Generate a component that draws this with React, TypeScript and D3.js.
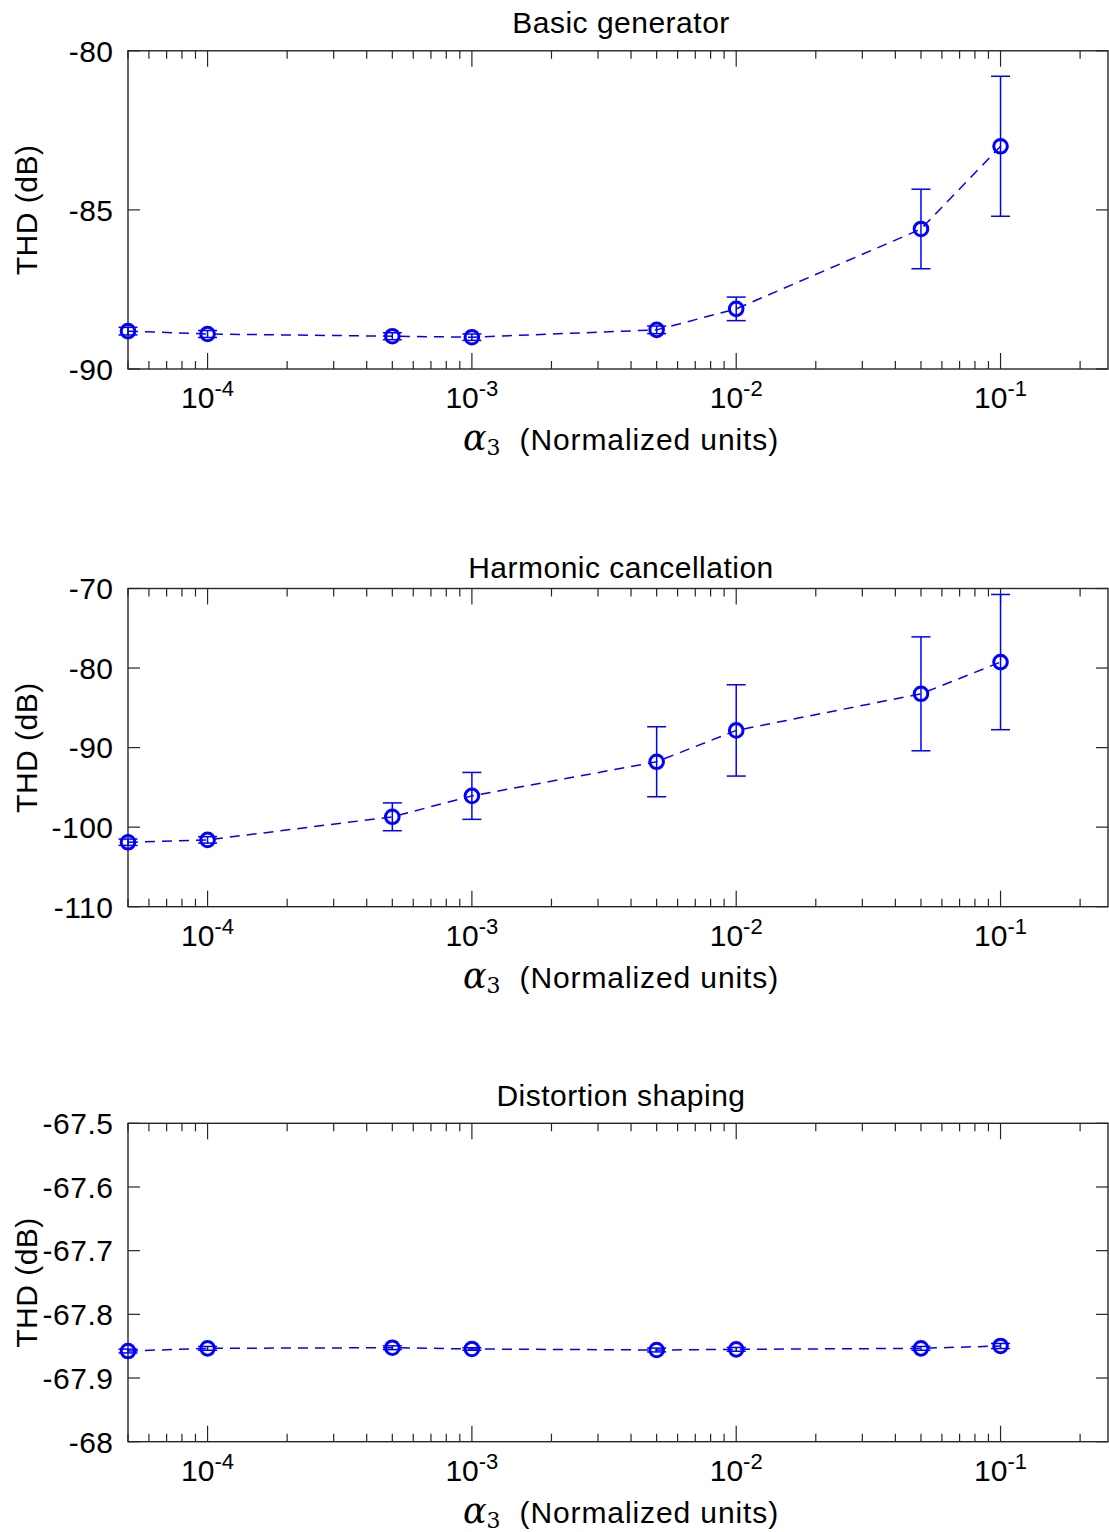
import React from "react";
import * as d3 from "d3";

const alphaValues = [5e-5, 1e-4, 5e-4, 1e-3, 5e-3, 1e-2, 5e-2, 1e-1];

const basicTHD = [-88.81, -88.9, -88.97, -89.0, -88.77, -88.11, -85.6, -83.0];
const basicErr = [0.12, 0.11, 0.11, 0.1, 0.12, 0.37, 1.25, 2.2];

const harmonicTHD = [-101.9, -101.6, -98.7, -96.07, -91.78, -87.84, -83.24, -79.25];
const harmonicErr = [0.4, 0.4, 1.75, 2.95, 4.4, 5.74, 7.16, 8.5];

const shapingTHD = [-67.8576, -67.8534, -67.8524, -67.8544, -67.856, -67.855, -67.8534, -67.8497];
const shapingErr = [0.003, 0.003, 0.003, 0.002, 0.003, 0.003, 0.003, 0.004];

const titles = ["Basic generator", "Harmonic cancellation", "Distortion shaping"];
const yDomains: [number, number][] = [[-90, -80], [-110, -70], [-68, -67.5]];
const yTickValues = [
  [-90, -85, -80],
  [-110, -100, -90, -80, -70],
  [-68, -67.9, -67.8, -67.7, -67.6, -67.5],
];
const yTickLabels = [
  ["-90", "-85", "-80"],
  ["-110", "-100", "-90", "-80", "-70"],
  ["-68", "-67.9", "-67.8", "-67.7", "-67.6", "-67.5"],
];
const xMajorTicks = [1e-4, 1e-3, 1e-2, 1e-1];
const xMajorExponents = ["-4", "-3", "-2", "-1"];
const xDomain: [number, number] = [5e-5, 0.255];

const W = 1109;
const H = 1532;
const LEFT = 128;
const RIGHT = 1108;
const panelsLayout = [
  { top: 50.8, bottom: 369, titleY: 33.3 },
  { top: 588.5, bottom: 906.7, titleY: 577.7 },
  { top: 1123.3, bottom: 1441.7, titleY: 1106 },
];

const AX = "#262626";
const BLUE = "#0000ff";
const FONT = "'Liberation Sans', Arial, Helvetica, sans-serif";
const FS = 30;
const LS = 0.5;

function Panel({ idx, values, errs }: { idx: number; values: number[]; errs: number[] }) {
  const lay = panelsLayout[idx];
  const x = d3.scaleLog().domain(xDomain).range([LEFT, RIGHT]);
  const y = d3.scaleLinear().domain(yDomains[idx]).range([lay.bottom, lay.top]);

  const minor: { v: number; major: boolean }[] = [];
  for (let e = -5; e <= 0; e++) {
    const d = Math.pow(10, e);
    for (let m = 1; m <= 9; m++) {
      const v = m * d;
      if (v >= xDomain[0] * 0.9999 && v <= xDomain[1]) minor.push({ v, major: m === 1 });
    }
  }

  const pts = alphaValues.map((a, i) => ({ a, v: values[i], e: errs[i] }));
  const line = d3
    .line<{ a: number; v: number }>()
    .x((d) => x(d.a))
    .y((d) => y(d.v));

  const cx = (LEFT + RIGHT) / 2;
  const cy = (lay.top + lay.bottom) / 2;

  return (
    <g>
      <text
        x={cx + 3}
        y={lay.titleY}
        textAnchor="middle"
        fontFamily={FONT}
        fontSize={FS}
        letterSpacing={LS}
        fill="#000"
      >
        {titles[idx]}
      </text>
      <rect
        x={LEFT}
        y={lay.top}
        width={RIGHT - LEFT}
        height={lay.bottom - lay.top}
        fill="none"
        stroke={AX}
        strokeWidth={1.4}
      />
      {minor.map((t, i) => {
        const px = x(t.v);
        const len = t.major ? 16 : 8;
        return (
          <g key={"xt" + i}>
            <line x1={px} x2={px} y1={lay.bottom} y2={lay.bottom - len} stroke={AX} strokeWidth={1.2} />
            <line x1={px} x2={px} y1={lay.top} y2={lay.top + len} stroke={AX} strokeWidth={1.2} />
          </g>
        );
      })}
      {yTickValues[idx].map((v, i) => {
        const py = y(v);
        return (
          <g key={"yt" + i}>
            <line x1={LEFT} x2={LEFT + 12} y1={py} y2={py} stroke={AX} strokeWidth={1.2} />
            <line x1={RIGHT} x2={RIGHT - 12} y1={py} y2={py} stroke={AX} strokeWidth={1.2} />
            <text
              x={113 + LS}
              y={py}
              dy="0.36em"
              textAnchor="end"
              fontFamily={FONT}
              fontSize={FS}
              letterSpacing={LS}
              fill="#000"
            >
              {yTickLabels[idx][i]}
            </text>
          </g>
        );
      })}
      {xMajorTicks.map((v, i) => (
        <text
          key={"xl" + i}
          x={x(v)}
          y={lay.bottom + 39}
          textAnchor="middle"
          fontFamily={FONT}
          fontSize={FS}
          fill="#000"
        >
          <tspan>10</tspan>
          <tspan dy={-12} fontSize={22}>
            {xMajorExponents[i]}
          </tspan>
        </text>
      ))}
      <text x={cx + 3} y={lay.bottom + 81} textAnchor="middle" fill="#000" fontSize={FS} fontFamily={FONT}>
        <tspan fontFamily="'DejaVu Serif', serif" fontStyle="italic" fontSize={35}>
          α
        </tspan>
        <tspan fontFamily="'DejaVu Serif', serif" fontSize={22} dy={5}>
          3
        </tspan>
        <tspan dy={-5} dx={19} letterSpacing={0.9}>
          (Normalized units)
        </tspan>
      </text>
      <text
        transform={`translate(37,${cy}) rotate(-90)`}
        textAnchor="middle"
        fontFamily={FONT}
        fontSize={FS}
        letterSpacing={LS}
        fill="#000"
      >
        THD (dB)
      </text>
      <path d={line(pts) || ""} fill="none" stroke={BLUE} strokeWidth={1.5} strokeDasharray="10,7" />
      {pts.map((p, i) => {
        const px = x(p.a);
        const y1 = y(p.v + p.e);
        const y2 = y(p.v - p.e);
        return (
          <g key={"eb" + i} stroke={BLUE} strokeWidth={1.5}>
            <line x1={px} x2={px} y1={y1} y2={y2} />
            <line x1={px - 9.5} x2={px + 9.5} y1={y1} y2={y1} />
            <line x1={px - 9.5} x2={px + 9.5} y1={y2} y2={y2} />
          </g>
        );
      })}
      {pts.map((p, i) => (
        <circle key={"m" + i} cx={x(p.a)} cy={y(p.v)} r={6.8} fill="none" stroke={BLUE} strokeWidth={3} />
      ))}
    </g>
  );
}

export default function App() {
  return (
    <svg
      width={W}
      height={H}
      viewBox={`0 0 ${W} ${H}`}
      style={{ position: "absolute", left: 0, top: 0, background: "#fff" }}
    >
      <rect x={0} y={0} width={W} height={H} fill="#fff" />
      <Panel idx={0} values={basicTHD} errs={basicErr} />
      <Panel idx={1} values={harmonicTHD} errs={harmonicErr} />
      <Panel idx={2} values={shapingTHD} errs={shapingErr} />
    </svg>
  );
}
